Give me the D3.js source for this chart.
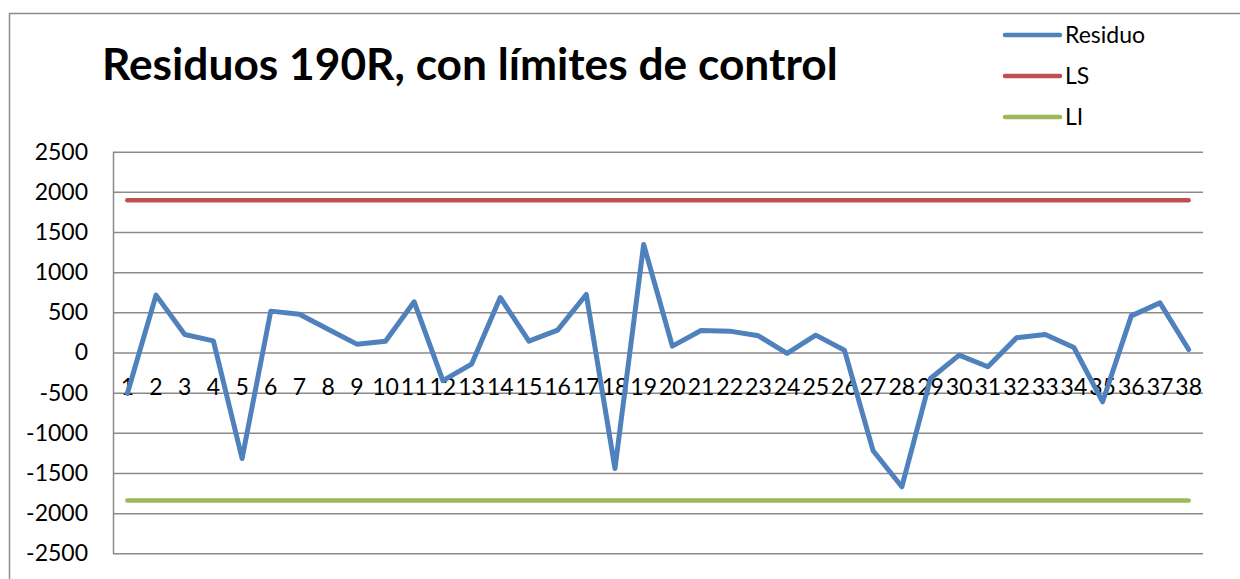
<!DOCTYPE html>
<html><head><meta charset="utf-8">
<script src="https://cdn.jsdelivr.net/npm/d3@7"></script>
<style>body{margin:0;background:#fff} svg{display:block} text{font-family:Lato, "Open Sans", sans-serif; fill:#000}</style>
</head><body>
<svg id="c" width="1240" height="579"></svg>
<script>
const categories = ["1","2","3","4","5","6","7","8","9","10","11","12","13","14","15","16","17","18","19","20","21","22","23","24","25","26","27","28","29","30","31","32","33","34","35","36","37","38"];
const residuo = [-510, 714, 224, 145, -1320, 515, 477, 290, 104, 141, 631, -350, -145, 685, 141, 278, 722, -1444, 1345, 79, 274, 266, 208, -10, 216, 29, -1224, -1672, -324, -33, -178, 183, 224, 62, -614, 456, 618, 37];
const ls = [1895,1895,1895,1895,1895,1895,1895,1895,1895,1895,1895,1895,1895,1895,1895,1895,1895,1895,1895,1895,1895,1895,1895,1895,1895,1895,1895,1895,1895,1895,1895,1895,1895,1895,1895,1895,1895,1895];
const li = [-1843,-1843,-1843,-1843,-1843,-1843,-1843,-1843,-1843,-1843,-1843,-1843,-1843,-1843,-1843,-1843,-1843,-1843,-1843,-1843,-1843,-1843,-1843,-1843,-1843,-1843,-1843,-1843,-1843,-1843,-1843,-1843,-1843,-1843,-1843,-1843,-1843,-1843];
const yTicks = [-2500,-2000,-1500,-1000,-500,0,500,1000,1500,2000,2500];
const titleText = "Residuos 190R, con límites de control";
const seriesNames = ["Residuo","LS","LI"];
const seriesColors = ["#4F81BD","#C0504D","#9BBB59"];

const svg = d3.select("#c");
const plot = {left:113, right:1203, top:151.7, bottom:553.3};
const x = d3.scaleBand().domain(categories).range([plot.left, plot.right]);
const y = d3.scaleLinear().domain([-2500, 2500]).range([plot.bottom, plot.top]);
const cx = c => x(c) + x.bandwidth()/2;

// chart border
svg.append("rect").attr("x",9.5).attr("y",13.5).attr("width",1250).attr("height",600)
  .attr("fill","none").attr("stroke","#8a8a8a").attr("stroke-width",1.5);

// y axis with gridlines
const gy = svg.append("g").attr("transform",`translate(${plot.left},0)`)
  .call(d3.axisLeft(y).tickValues(yTicks).tickSize(-(plot.right-plot.left)).tickSizeOuter(0)
    .tickPadding(25).tickFormat(d => String(d)));
gy.selectAll(".tick line").attr("stroke","#8a8a8a").attr("stroke-width",1.5);
gy.select(".domain").attr("stroke","#8a8a8a").attr("stroke-width",1.5);
gy.selectAll(".tick text").style("font-family","Lato").style("font-size","23px").attr("fill","#000");

// category labels
svg.append("g").selectAll("text").data(categories).join("text")
  .attr("x", d => cx(d)).attr("y", 395).attr("text-anchor","middle")
  .style("font-size","23px").text(d => d);

// series lines
const seriesData = [residuo, ls, li];
const line = d3.line().x((d,i) => cx(categories[i])).y(d => y(d));
[2,1,0].forEach(k => {
  svg.append("path").datum(seriesData[k]).attr("d", line)
    .attr("fill","none").attr("stroke", seriesColors[k])
    .attr("stroke-width", k === 0 ? 5 : 4.5)
    .attr("stroke-linejoin","round").attr("stroke-linecap","round");
});

// title
const t = svg.append("text").attr("x",102).attr("y",80)
  .style("font-weight","bold").style("font-size","40px").text(titleText);
const w = t.node().getComputedTextLength();
t.style("font-size", (40*736/w) + "px");

// legend
const legY = [35, 76, 117];
seriesNames.forEach((n,i) => {
  svg.append("line").attr("x1",1005).attr("x2",1060).attr("y1",legY[i]).attr("y2",legY[i])
    .attr("stroke",seriesColors[i]).attr("stroke-width",4.5).attr("stroke-linecap","round");
  svg.append("text").attr("x",1065).attr("y",legY[i]).attr("dy","0.36em")
    .style("font-size","23px").text(n);
});
</script>
</body></html>
